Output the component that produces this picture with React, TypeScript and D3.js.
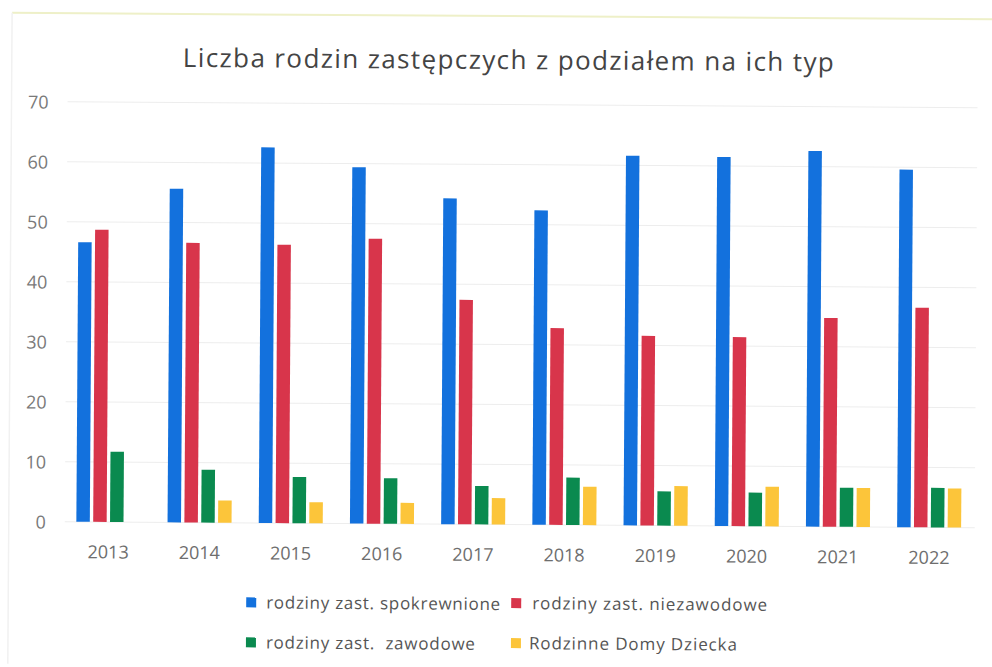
import React from "react";
import * as d3 from "d3";

const years = ["2013", "2014", "2015", "2016", "2017", "2018", "2019", "2020", "2021", "2022"];
const seriesNames = [
  "rodziny zast. spokrewnione",
  "rodziny zast. niezawodowe",
  "rodziny zast.  zawodowe",
  "Rodzinne Domy Dziecka",
];
const spokrewnione = [46.6, 55.6, 62.6, 59.4, 54.3, 52.4, 61.6, 61.5, 62.6, 59.6];
const niezawodowe = [48.7, 46.6, 46.4, 47.5, 37.4, 32.8, 31.6, 31.5, 34.8, 36.6];
const zawodowe = [11.7, 8.8, 7.7, 7.6, 6.4, 7.9, 5.7, 5.6, 6.5, 6.6];
const domyDziecka = [0, 3.7, 3.5, 3.5, 4.4, 6.4, 6.6, 6.6, 6.5, 6.5];
const yTicks = [0, 10, 20, 30, 40, 50, 60, 70];
const colors = ["#1371dd", "#d8354b", "#0a8a4f", "#fcc53a"];

const W = 992;
const H = 667;
const FONT = "'Open Sans', Lato, sans-serif";

export default function App() {
  const values = [spokrewnione, niezawodowe, zawodowe, domyDziecka];
  const x = d3.scaleBand<string>().domain(years).range([64, 976]).paddingInner(0).paddingOuter(0);
  const groupW = 64;
  const xi = d3
    .scaleBand<number>()
    .domain([0, 1, 2, 3])
    .range([0, groupW])
    .paddingInner(0.2)
    .paddingOuter(0);
  const y = d3.scaleLinear().domain([0, 70]).range([524.5, 104.5]);

  const legendItems = [
    { i: 0, sx: 248, tx: 268, cy: 604, w: 234 },
    { i: 1, sx: 513, tx: 534, cy: 603, w: 235 },
    { i: 2, sx: 248, tx: 268, cy: 644, w: 209 },
    { i: 3, sx: 513, tx: 531, cy: 643, w: 208 },
  ];

  return (
    <svg
      width={W}
      height={H}
      style={{ position: "absolute", left: 0, top: 0, background: "#ffffff" }}
    >
      <g transform={`rotate(0.38, ${W / 2}, ${H / 2})`}>
        <line x1={10} x2={992} y1={16} y2={16} stroke="#eef0c8" strokeWidth={2} />
        <line x1={10} x2={10} y1={16} y2={667} stroke="#f1f1f1" strokeWidth={1.5} />
        <text
          x={181}
          y={69}
          fontFamily={FONT}
          fontSize={26}
          fill="#444"
          textLength={651}
          lengthAdjust="spacing"
        >
          Liczba rodzin zastępczych z podziałem na ich typ
        </text>
        {yTicks.map((t) => (
          <g key={t}>
            <line x1={66} x2={976} y1={y(t)} y2={y(t)} stroke="#ededed" strokeWidth={1} />
            <text
              x={47}
              y={y(t) + 7}
              textAnchor="end"
              fontFamily={FONT}
              fontSize={18}
              fill="#7a7a7a"
            >
              {t}
            </text>
          </g>
        ))}
        {years.map((yr, j) => {
          const gx = (x(yr) as number) + x.bandwidth() / 2 - groupW / 2;
          return (
            <g key={yr}>
              {values.map((arr, i) =>
                arr[j] > 0 ? (
                  <rect
                    key={i}
                    x={gx + (xi(i) as number)}
                    y={y(arr[j])}
                    width={xi.bandwidth()}
                    height={y(0) - y(arr[j])}
                    fill={colors[i]}
                  />
                ) : null
              )}
              <text
                x={(x(yr) as number) + x.bandwidth() / 2}
                y={561}
                textAnchor="middle"
                fontFamily={FONT}
                fontSize={18}
                fill="#6e6e6e"
              >
                {yr}
              </text>
            </g>
          );
        })}
        {legendItems.map((l) => (
          <g key={l.i}>
            <rect x={l.sx} y={l.cy - 5} width={10} height={10} fill={colors[l.i]} />
            <text
              x={l.tx}
              y={l.cy + 6}
              fontFamily={FONT}
              fontSize={17}
              fill="#555"
              textLength={l.w}
              lengthAdjust="spacing"
              style={{ whiteSpace: "pre" }}
            >
              {seriesNames[l.i]}
            </text>
          </g>
        ))}
      </g>
    </svg>
  );
}
